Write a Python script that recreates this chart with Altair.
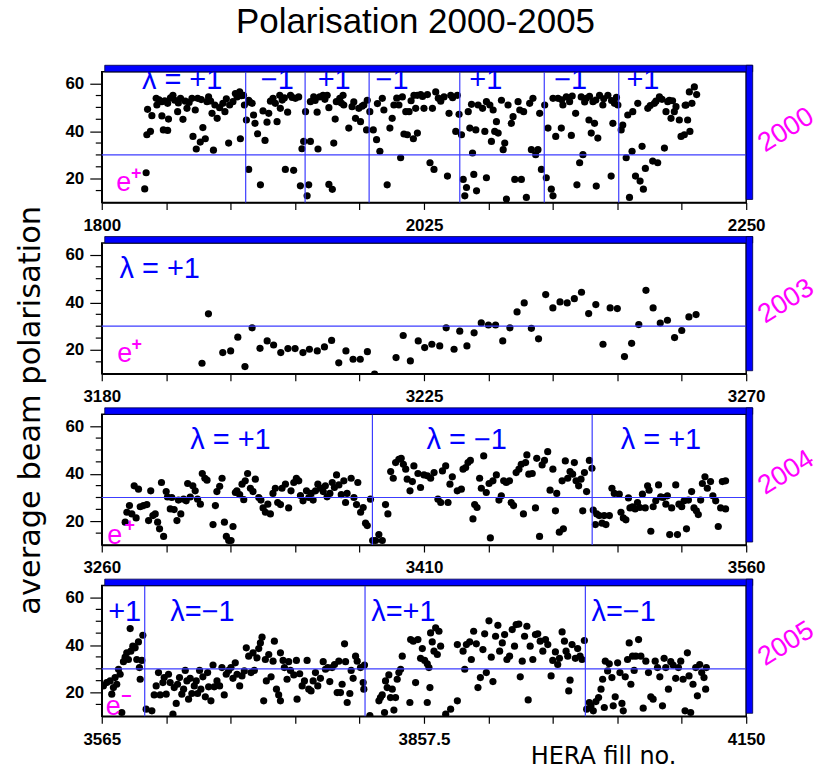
import altair as alt
import pandas as pd

# ---------------- data: average polarisation per HERA fill ----------------
fill_2000 = [
    1831, 1830, 1832, 1831.5, 1834, 1835, 1838, 1838.5, 1842, 1842,
    1843, 1846, 1846.6, 1846, 1849.7, 1851, 1853, 1855, 1856.7, 1858.3,
    1859.5, 1863, 1863.7, 1865.3, 1866, 1867, 1868.8, 1870.6, 1872.3, 1873.5,
    1874.6, 1877, 1878, 1879, 1880.6, 1882.3, 1884.6, 1886, 1888.6, 1889.3,
    1891.6, 1893.3, 1894.5, 1896.8, 1896.3, 1899, 1899.6, 1901, 1902.6, 1902.6,
    1905, 1906, 1907, 1908.8, 1910.8, 1912.6, 1914, 1915.4, 1916.6, 1919.6,
    1921.2, 1922.4, 1924.3, 1924.7, 1927.5, 1928.2, 1929.8, 1931.8, 1934, 1935.2,
    1937.5, 1938.7, 1939.8, 1941, 1942.3, 1943.4, 1944.5, 1945.7, 1945.7, 1948,
    1950.4, 1951, 1952.2, 1954.5, 1957.4, 1958.6, 1958.6, 1961, 1962, 1963,
    1963.8, 1966.2, 1968.5, 1969, 1972.5, 1974.8, 1977.2, 1979.5, 1980.7, 1983,
    1984.9, 1985.4, 1987.2, 1989.6, 1991.9, 1994.2, 1995.9, 1997, 1999.3, 2001.2,
    2002.8, 2004, 2007.5, 2009.9, 2008.7, 2012.3, 2014.6, 2011, 2013.4, 2017.6,
    2020.4, 2018, 2020.4, 2019.2, 2022.7, 2025, 2027.4, 2029.2, 2032, 2030.9,
    2033.2, 2036.7, 2039, 2041.4, 2042.5, 2043.7, 2047.2, 2049.5, 2048.3, 2051.2,
    2052.4, 2053.5, 2054.7, 2055.9, 2057, 2058.2, 2058.9, 2059.8, 2061.2, 2061.7,
    2062.8, 2065.9, 2067.5, 2068.6, 2068.6, 2071, 2072.1, 2073.3, 2074.4, 2075.6,
    2076.8, 2079.1, 2080.3, 2081.4, 2082.6, 2083.7, 2086, 2087.2, 2088.4, 2090.7,
    2091.9, 2093, 2094.6, 2096.5, 2098.8, 2100, 2101.1, 2103, 2104.6, 2105.8,
    2107, 2109.3, 2110.4, 2111.6, 2113.9, 2115.1, 2115.1, 2117, 2118.6, 2120.9,
    2122, 2124.4, 2126.7, 2127.9, 2130.9, 2131.8, 2133.7, 2134.8, 2136, 2138.3,
    2140.2, 2141.8, 2143, 2144.1, 2145.3, 2146.4, 2147.6, 2149.9, 2153.4, 2155.7,
    2156.9, 2158, 2160.4, 2162.7, 2163.8, 2166.2, 2167.3, 2168.5, 2170.3, 2170.8,
    2172.7, 2174.3, 2175.9, 2177.3, 2178.2, 2179.6, 2181.3, 2184.7, 2185.9, 2188.2,
    2189.4, 2192.9, 2194, 2195.2, 2196.3, 2197.5, 2199.8, 2201, 2203.3, 2204.5,
    2206.8, 2208, 2209.1, 2210.7, 2212.1, 2210.3, 2213.8, 2215.4,
    1840, 1844, 1848, 1853.5, 1861, 1869.5, 1876, 1887, 1897.5, 1903.5,
    1917.8, 1926, 1933, 1949, 1955.8, 1967.3, 1976, 1981.8, 1992.5, 2006,
    2016, 2024, 2035, 2045, 2121.2, 2128.5, 2137.2, 2140.6, 2145, 2150.5,
    2156, 2159.4, 2183, 2187, 2191.2, 2198.6, 2207.4,
]
pol_2000 = [
    22.5, 15.7, 49.2, 38.5, 39.9, 46.5, 53.8, 51, 46.4, 52.4,
    40.5, 40.3, 45.1, 51.7, 55.1, 53, 48.2, 53.8, 45, 52.6,
    49.6, 53.8, 37.8, 48.9, 32.5, 53.8, 35.4, 41.5, 36.8, 52.4,
    54.4, 47.5, 32, 51, 45.4, 49.9, 51.7, 48.2, 35, 51,
    52.4, 55.8, 54.4, 36.8, 56.5, 55.1, 51, 44.7, 23.9, 53,
    51.7, 46.8, 43.3, 38.9, 17.4, 48.5, 36.1, 43.8, 47.5, 53.8,
    51.7, 44, 55.1, 49.6, 54, 23.9, 48, 55.1, 23.5, 53.8,
    54.4, 17, 32.6, 35.7, 48.2, 12.8, 17.4, 35.7, 52.4, 54.4,
    48, 32.5, 54.4, 55.1, 55.1, 49.9, 17.6, 15.5, 35, 45.1,
    52.4, 53.8, 55.1, 51, 41.3, 50.3, 45.4, 49.6, 44, 51,
    40.5, 53, 48.2, 40.5, 36.4, 31.5, 53.8, 48.9, 17.4, 41.3,
    45.4, 51, 51, 54.4, 28.8, 48.2, 48.2, 38.8, 38.5, 36.8,
    39.2, 55.1, 55.1, 49.6, 55.4, 49.6, 55.4, 26.7, 23.9, 49.6,
    56.5, 52.6, 54.4, 21.1, 47.5, 55.1, 39.9, 47.1, 55.1, 38.5,
    19.7, 12.8, 16.3, 48.2, 41.3, 51.3, 30.8, 21.8, 40.5, 14.9,
    51, 49.6, 39.9, 20.4, 52.4, 51, 35.7, 48.9, 39.9, 44,
    39.2, 53, 32.2, 35, 11.4, 51, 43.3, 46.1, 19.7, 52.4,
    48.9, 19.7, 48.2, 12.1, 51.7, 32.2, 53.8, 30.1, 32.2, 47.5,
    23.9, 51, 20.4, 41.3, 15.6, 12.8, 53.8, 37.8, 53.8, 41.3,
    51, 54.4, 52.4, 38.2, 47.5, 17.4, 26.7, 54.4, 30.1, 53.8,
    44.7, 39.2, 52.4, 43.3, 16.9, 37.1, 55.1, 51, 55.1, 21.1,
    43.3, 51.7, 51, 40.5, 42.6, 28.8, 46.8, 12.1, 31.5, 48.2,
    21.1, 51.7, 19, 33.6, 15.6, 24.3, 49.6, 27.4, 51.7, 26.7,
    54.4, 32.9, 48.2, 52.4, 53, 45.4, 48.2, 50.3, 44.7, 37.8,
    38.5, 51, 44.7, 39.9, 51.7, 56.5, 58.6, 55.4,
    53.2, 52.8, 54, 51.9, 52.1, 53.3, 52.7, 53.6, 54.9, 52.2,
    52.6, 53.1, 54.2, 52.9, 53.4, 51.8, 52.3, 50.5, 51.6, 53.9,
    52.8, 54.6, 53.9, 54.1, 53.2, 54.8, 52.3, 54.7, 53.1, 53.6,
    52.9, 54.2, 50.8, 52.6, 53.4, 52.8, 50.9,
]

fill_2003 = [
    3194, 3194.9, 3196.9, 3198, 3199, 3200, 3201, 3202.1, 3203.1, 3204,
    3205, 3206, 3207, 3208.1, 3209, 3210.1, 3211.1, 3212.1, 3213.1, 3214.1,
    3215.1, 3216.1, 3217.1, 3218.1, 3221.1, 3222.1, 3223.1, 3224.2, 3225.1, 3226.1,
    3227.2, 3228.1, 3229.2, 3230, 3231, 3232, 3233, 3234, 3235, 3236,
    3237, 3238, 3239, 3240, 3241, 3242, 3243, 3244, 3245, 3246,
    3247, 3248, 3249, 3250, 3251, 3252, 3253, 3254, 3255, 3256,
    3257, 3258, 3259, 3260, 3261, 3262, 3263,
]
pol_2003 = [
    14.4, 35.2, 18.9, 19.6, 25.4, 13, 29.3, 20.7, 23.8, 22.1,
    18.9, 20.6, 20.6, 18.9, 20.3, 19.6, 21.3, 24, 14.6, 19.6,
    16.1, 16.1, 19.3, 9.8, 16.8, 26.1, 15.4, 23.8, 21, 22.4,
    21.7, 29.3, 20.3, 27.9, 21.7, 27.2, 31.4, 30.5, 30.5, 23.8,
    29.3, 36, 39.8, 29.1, 24.7, 43.3, 37.7, 40.2, 39.8, 41.6,
    44.3, 35.3, 39.1, 22.4, 37.7, 37.4, 17.2, 22.8, 30.7, 45.1,
    37.7, 31.3, 32.5, 25.2, 28.2, 33.9, 34.9,
]

fill_2004 = [
    3270.9, 3271.7, 3272.9, 3274, 3275.1, 3276, 3277.1, 3277.9, 3279.4, 3281,
    3281.8, 3282.8, 3283.8, 3284.9, 3286, 3286.9, 3287.8, 3288.8, 3290, 3290.6,
    3291.9, 3292.6, 3293.7, 3295, 3295.7, 3296.8, 3298.1, 3299.3, 3300, 3301.2,
    3302.4, 3303.5, 3304.6, 3305.9, 3306.8, 3308, 3309, 3311.8, 3312.9, 3313.6,
    3314.9, 3316, 3317.1, 3318, 3319.1, 3320.2, 3321.1, 3322.2, 3322.9, 3324.2,
    3325.3, 3326.1, 3326.8, 3327.9, 3329.2, 3330.4, 3331.5, 3333.1, 3334.1, 3335.1,
    3336.2, 3337.3, 3338.5, 3339.7, 3340.8, 3341.9, 3343.2, 3343.9, 3345.5, 3347,
    3348.1, 3349.4, 3350.6, 3351.7, 3352.5, 3353.7, 3355.3, 3356.4, 3357.5, 3358.4,
    3359.5, 3360.6, 3361.8, 3363.1, 3364.1, 3364.9, 3366.2, 3367.3, 3368.3, 3369.3,
    3370.4, 3371.5, 3372.7, 3373.5, 3374.2, 3376.1, 3377.4, 3378.6, 3379.2, 3380.5,
    3381.7, 3382.8, 3383.6, 3385.1, 3386.1, 3387.5, 3389, 3390.6, 3392.1, 3393.2,
    3394.5, 3395.7, 3396.8, 3398.3, 3399.4, 3400.4, 3401.5, 3402.2, 3403.5, 3404.6,
    3405.3, 3407.2, 3408.4, 3410, 3411.6, 3413.1, 3414.7, 3416.5, 3417.8, 3418.6,
    3420.1, 3421.2, 3422.1, 3423.2, 3425.5, 3427.4, 3428.2, 3429.4, 3430.5, 3431.6,
    3432.8, 3433.6, 3434.7, 3435.9, 3436.7, 3437.8, 3439, 3440.3, 3440.9, 3442.1,
    3443.7, 3444.9, 3446, 3447.1, 3448.3, 3449.8, 3450.6, 3451.7, 3452.9, 3454.2,
    3455.3, 3456.3, 3457.3, 3457.9, 3458.8, 3460.4, 3461.9, 3462.5, 3463.8, 3465,
    3466.1, 3467.6, 3468.7, 3470, 3471.2, 3471.8, 3473, 3474.3, 3474.9, 3475.8,
    3476.9, 3478, 3479.2, 3480, 3480.8, 3482, 3483.1, 3483.9, 3484.7, 3485.7,
    3487, 3488.2, 3488.8, 3489.8, 3490.4, 3491.6, 3492.9, 3493.9, 3494.7, 3496.3,
    3497.5, 3498.6, 3500.9, 3501.7, 3502.8, 3504, 3505.2, 3505.9, 3507.1, 3508.3,
    3509.4, 3510.5, 3511.7, 3513, 3514.1, 3514.8, 3515.6, 3516.7, 3517.9, 3519.2,
    3520.2, 3521.3, 3522.6, 3523.3, 3524.4, 3525.3, 3527.2, 3528, 3528.7, 3530,
    3531.1, 3532.2, 3533.1, 3534.6, 3535.7, 3536.8, 3537.7, 3538.8, 3539.6, 3540.8,
    3541.9, 3543.4, 3544.5, 3545.8, 3547, 3548.1, 3548.9, 3550.4, 3550.4,
]
pol_2004 = [
    19.6, 23.8, 26.6, 23.1, 34.9, 21.4, 33.5, 26.1, 26.6, 27,
    20.3, 32.8, 22.4, 23.1, 19.6, 16.8, 36.3, 13.6, 32.5, 30.2,
    25.2, 30, 24.9, 20.3, 28.9, 23.1, 29.3, 28.6, 35.9, 30.2,
    34.9, 32.8, 29.3, 27.2, 40.1, 38.1, 37.3, 18.6, 26.6, 32.5,
    34.7, 38.1, 19.6, 13.6, 11.9, 11.9, 17.8, 32.1, 32.8, 31.2,
    35.6, 29.1, 37, 40.1, 33.9, 32.5, 37.7, 30, 28.9, 25.6,
    23.8, 27.2, 23.1, 31.7, 33.9, 27.9, 27, 33.9, 35.6, 25.6,
    32.8, 36.3, 38.1, 37, 30.8, 28.6, 32.8, 30, 31.7, 28.9,
    32.8, 35.6, 33.9, 32.5, 34.9, 30.3, 31.7, 36.3, 34.2, 39.5,
    35.3, 31.2, 37, 27.9, 31.7, 38.1, 30, 27, 36.3, 23.8,
    25.8, 19.2, 18.2, 29.3, 11.9, 11.9, 14.4, 11.9, 27, 23.1,
    40.9, 38.1, 44.7, 46.1, 46.5, 44, 41.9, 37.7, 32.8, 36.7,
    43.3, 40.1, 34.2, 39.5, 39.1, 38.1, 40.5, 29.3, 27.9, 41.2,
    43.3, 27.9, 35.6, 38.7, 32.8, 33.5, 41.9, 42.6, 44.7, 45.6,
    21, 27, 25.8, 38.1, 33.9, 47.5, 32.1, 35.9, 13, 37,
    39.5, 28.9, 30.7, 37, 36.3, 37, 27.9, 26.6, 40.5, 41.9,
    44, 23.1, 44.7, 47.9, 39.8, 40.1, 25.6, 46.5, 13.6, 43.7,
    45.6, 49.3, 33.1, 41.9, 24.4, 31.7, 15.4, 37, 16.8, 45.4,
    38.1, 40.9, 39.8, 44.7, 37, 34.9, 37.7, 24.4, 40.5, 32.5,
    45.6, 42.3, 24.7, 18.6, 23.1, 22.4, 19.2, 22.4, 18.6, 22.4,
    33.9, 31.7, 31.4, 23.8, 21.4, 20.6, 29.8, 25.6, 26.1, 25.2,
    27.9, 25.8, 31.4, 25.6, 34.9, 33.1, 15.8, 26.1, 28.6, 35.3,
    30.3, 30, 27.2, 30.7, 14.4, 25.6, 35.3, 14.4, 27.2, 26.1,
    28.6, 16.8, 28.9, 32.5, 25.6, 24.4, 22.8, 28.9, 35.9, 38.7,
    33.9, 36.7, 30.7, 28.6, 17.8, 25.6, 36.7, 37, 25.2,
]

fill_2005 = [
    3566.5, 3569.5, 3572.6, 3574.1, 3575.6, 3577.1, 3578.6, 3580.2, 3581.7, 3583.2,
    3584.7, 3586.2, 3587.7, 3589.2, 3590.8, 3591.4, 3593.2, 3595.3, 3596.8, 3598.3,
    3599.2, 3599.9, 3601.4, 3602.3, 3605.3, 3610.5, 3612.6, 3614.4, 3616.5, 3618,
    3620.5, 3621.7, 3623.5, 3625.6, 3627.1, 3629.6, 3630.8, 3632.6, 3633.8, 3635.6,
    3637.7, 3639.3, 3640.8, 3642.3, 3643.8, 3645.3, 3646.8, 3649, 3650.8, 3652,
    3653.8, 3655, 3656.8, 3659, 3661.1, 3662, 3664.1, 3666, 3667.1, 3669.6,
    3672, 3674.1, 3676.2, 3678, 3680.2, 3682.3, 3684.1, 3686.2, 3687.8, 3690.2,
    3692.3, 3694.4, 3696.2, 3698.4, 3700.5, 3702.3, 3703.5, 3705.9, 3707.5, 3709,
    3710.5, 3712, 3713.5, 3714.4, 3716.6, 3718.7, 3720.5, 3721.7, 3723.6, 3725.6,
    3727.2, 3727.2, 3729.6, 3730.8, 3733.2, 3734.7, 3736.3, 3739.3, 3741.7, 3742.3,
    3744.7, 3746.9, 3749, 3751.4, 3752.9, 3755, 3756.9, 3759, 3761.1, 3763.5,
    3766, 3768.1, 3770.2, 3772, 3774.1, 3776.3, 3778.7, 3780.2, 3781.7, 3783.2,
    3785.4, 3786.3, 3787.8, 3790.2, 3791.4, 3793.2, 3795.4, 3796.9, 3799.9, 3802.3,
    3802.9, 3803.5, 3808.4, 3816.6, 3818, 3819.6, 3821.7, 3822.6, 3824.1, 3825.6,
    3827.1, 3828.7, 3830.2, 3831.7, 3833.2, 3834.7, 3836.3, 3837.8, 3844.7, 3845.4,
    3847.8, 3849.9, 3852, 3854.4, 3856, 3858.1, 3860.5, 3862, 3862.9, 3860.5,
    3863.5, 3865, 3866.6, 3868.1, 3869.6, 3871.1, 3872.6, 3877.2, 3881.7, 3887.8,
    3887.8, 3893, 3894.5, 3896, 3899, 3900.5, 3902.6, 3905, 3906.5, 3908.7,
    3911, 3912.6, 3914.1, 3916.5, 3918.6, 3920.1, 3922.5, 3924.6, 3926.2, 3928.6,
    3930.7, 3932.8, 3935.2, 3937.6, 3939.7, 3941.2, 3943.6, 3944.9, 3946.7, 3948.8,
    3950.9, 3952.1, 3953.9, 3956.3, 3958.7, 3960.8, 3963, 3965.4, 3967.8, 3969.9,
    3972.9, 3974.4, 3976.8, 3978.9, 3980.5, 3982.9, 3985, 3986.5, 3988, 3988.9,
    3990.1, 3991.9, 3994.9, 3997, 3999.2, 4001, 4003.1, 4005.2, 4007.6, 4009.1,
    4011.2, 4013.6, 4016, 4018.2, 4019.7, 4021.2, 4022.1, 4024.2, 4025.7, 4028.1,
    4029.3, 4031.1, 4033.3, 4035.4, 4037.2, 4038.4, 4040.2, 4042.3, 4043.8, 4045.3,
    4046.8, 4048.3, 4049.8, 4052.3, 4054.4, 4056.5, 4058.9, 4061.3, 4063.4, 4065.5,
    4067.4, 4069.5, 4071.6, 4074, 4075.5, 4077, 4079.4, 4081.5, 4083.6, 4086,
    4088.5, 4090.6, 4092.7, 4094.5, 4096.6, 4098.1, 4099.6, 4101.7, 4104.2, 4105.7,
    4107.8, 4109.6, 4111.7, 4113.2, 4113.8,
]
pol_2005 = [
    22.8, 24.2, 24.9, 19.3, 22.1, 26.3, 23.5, 29.8, 27.7, 11.6,
    33, 34.9, 36.7, 33.9, 46.9, 37.4, 39.5, 38.8, 33.9, 41.3,
    30.5, 25.6, 33.5, 44.1, 13, 12.3, 19, 22.8, 28.4, 19,
    24.2, 26.3, 19.3, 27.7, 24.2, 10.9, 22.1, 15.4, 23.5, 26.3,
    19.3, 21.4, 29.3, 24.9, 17.2, 26, 19.6, 22.8, 24.9, 19.6,
    29.3, 21.4, 26.6, 18.2, 28.4, 22.4, 16.5, 31.6, 22.4, 24.9,
    22.8, 30.5, 19, 27.7, 29.3, 30.5, 26, 32.5, 27.7, 22.8,
    27, 29.1, 38.8, 35.3, 28.4, 36.7, 29.3, 34.6, 38.5, 40.9,
    43.3, 16.5, 33.9, 24.9, 36, 26.6, 33.2, 41.6, 21.4, 19,
    16.5, 36.7, 33.5, 30.5, 25.6, 33, 29.3, 27.4, 33.5, 17.2,
    27.9, 22.8, 24.9, 33.5, 21.4, 20.7, 24.9, 28.4, 22.8, 26,
    33, 29.8, 30.5, 24.6, 30.5, 31.8, 20, 33.2, 20, 23.5,
    40.5, 33, 15.8, 19.6, 29.3, 26, 35.3, 33.2, 30.5, 24.2,
    21.4, 31.6, 10.3, 16.5, 17.9, 19, 11.6, 24.9, 22.1, 27.4,
    17.9, 21.4, 12.6, 17.9, 25.6, 28.4, 29.8, 35.3, 15.8, 42.3,
    41.6, 24.2, 42.3, 34.4, 38.5, 33.5, 32.1, 30.5, 22.1, 15.8,
    45.1, 41.3, 37.4, 47.2, 36, 45.8, 39.5, 10.9, 13, 16.5,
    40.2, 37.4, 29.8, 40.2, 41.3, 33.9, 45.8, 40.5, 22.1, 26.3,
    38.1, 44.7, 28.4, 50.2, 34.9, 24.6, 43.7, 48.3, 37.4, 40.9,
    44.4, 33.9, 35.3, 46.5, 39.5, 48.6, 48.8, 26.6, 33.2, 43.7,
    47.9, 16.9, 39.5, 33.9, 44.4, 44.7, 41.6, 37.4, 42.3, 40.2,
    27, 33.5, 37.1, 31.8, 34.4, 45.5, 41.6, 37.4, 35.3, 20.7,
    25.2, 40.2, 34.4, 38.5, 35.3, 33.9, 41.9, 13, 15.8, 14.4,
    12.3, 16.2, 17.9, 21.4, 25.6, 13.7, 33.2, 29.1, 32.1, 26.3,
    14.4, 18.2, 32.5, 28.4, 15.4, 12.3, 26.6, 33.9, 40.9, 23.5,
    35.3, 29.3, 35.3, 42.3, 35.3, 13.4, 33.2, 28.4, 18.2, 17.2,
    33.2, 30.5, 26.6, 14.4, 34.4, 30.5, 21.4, 33, 31.6, 26,
    30.5, 33.2, 25.6, 12.3, 36.7, 27, 11.6, 23.5, 30.5, 18.6,
    31.8, 28.4, 26.3, 21.4, 30.5,
]

# helicity flips (fill numbers where the sign of lambda changes)
flips_2000 = [1900.5, 1942, 1986.7, 2050, 2109, 2161]
flips_2003 = []
flips_2004 = [3386, 3488.3]
flips_2005 = [3604, 3804, 4004]

# helicity annotations: text, centre fill, baseline polarisation
lam_text_2000 = ["λ = +1", "−1", "+1", "−1", "+1", "−1", "+1"]
lam_fill_2000 = [1856.1, 1922.6, 1962.3, 2002.7, 2068.2, 2127.4, 2177.9]
lam_pol_2000 = [57.9] * 7
lam_text_2003 = ["λ = +1"]
lam_fill_2003 = [3188.1]
lam_pol_2003 = [50.2]
lam_text_2004 = ["λ = +1", "λ = −1", "λ = +1"]
lam_fill_2004 = [3319.9, 3429.9, 3520.3]
lam_pol_2004 = [50.2, 50.2, 50.2]
lam_text_2005 = ["+1", "λ=−1", "λ=+1", "λ=−1"]
lam_fill_2005 = [3585.8, 3656.4, 3838.8, 4038.7]
lam_pol_2005 = [50, 50, 50, 50]

# x axes: range, tick step and the labelled ticks
x_range = {2000: (1800, 2250), 2003: (3180, 3270), 2004: (3260, 3560), 2005: (3565, 4150)}
x_labelled = {2000: [1800, 2025, 2250], 2003: [3180, 3225, 3270],
              2004: [3260, 3410, 3560], 2005: [3565, 3857.5, 4150]}

# y axis: labelled ticks and the short in-between ticks
y_major = [20, 40, 60]
y_minor = [15, 25, 30, 35, 45, 50, 55]

# beam charge tag: e position, superscript sign and its position
beam_e = {2000: (1815.3, 14.75), 2003: (3183.2, 14.8), 2004: (3266, 10.5), 2005: (3575.4, 10.7)}
beam_sign = {2000: ("+", 1824, 22), 2003: ("+", 3184.9, 22.1),
             2004: ("+", 3273, 17.9), 2005: ("−", 3587.2, 18.2)}

W, H = 646, 131
GAP = 40.7
LEFT, TOP, RIGHT = 101, 69.7, 81          # page margins around the panel stack
Y_DOMAIN = [10, 65]
BLUE = "#0000ff"
LINE_BLUE = "#3c3cff"
MAGENTA = "#ff00ff"
FONT = "Liberation Sans"


def panel(year, fills, pols, flips, lam_text, lam_fill, lam_pol, extra=None):
    x0, x1 = x_range[year]
    step = (x1 - x0) / 10
    xscale = alt.Scale(domain=[x0, x1], nice=False, zero=False)
    yscale = alt.Scale(domain=Y_DOMAIN, nice=False, zero=False)
    xlab = x_labelled[year]
    xaxis = alt.Axis(values=[x0 + step * k for k in range(11)],
                     labelExpr=(f"datum.value == {xlab[0]} || datum.value == {xlab[1]}"
                                f" || datum.value == {xlab[2]} ? '' + datum.value : ''"),
                     tickSize=7, labelPadding=8, labelFlush=False,
                     labelOverlap=False)
    yaxis = alt.Axis(values=y_major, tickSize=12, labelPadding=6, format="d")

    # every layer carries the same axis definition so the merged axes stay intact
    def X(field):
        return alt.X(field, type="quantitative", scale=xscale, title=None, axis=xaxis)

    def Y(field):
        return alt.Y(field, type="quantitative", scale=yscale, title=None, axis=yaxis)

    pts = pd.DataFrame({"fill": fills, "pol": pols})
    points = alt.Chart(pts).mark_circle(size=52, color="black", opacity=1, clip=True).encode(
        x=X("fill"), y=Y("pol"))

    minor = alt.Chart(pd.DataFrame({"pol": y_minor})).mark_rule(
        color="black", strokeWidth=1.2).encode(
        y=Y("pol"), x=alt.value(-6), x2=alt.value(0))

    hline = alt.Chart(pd.DataFrame({"pol": [30]})).mark_rule(
        color=LINE_BLUE, strokeWidth=1.2).encode(
        y=Y("pol"), x=alt.value(0), x2=alt.value(W))

    layers = [points, minor, hline]

    if flips:
        vlines = alt.Chart(pd.DataFrame({"fill": flips})).mark_rule(
            color=LINE_BLUE, strokeWidth=1.2).encode(x=X("fill"))
        layers.append(vlines)

    lam = alt.Chart(pd.DataFrame({"fill": lam_fill, "pol": lam_pol, "txt": lam_text})).mark_text(
        font=FONT, fontSize=29, color=BLUE, align="center", baseline="alphabetic").encode(
        x=X("fill"), y=Y("pol"), text="txt:N")
    layers.append(lam)

    ef, ep = beam_e[year]
    sgn, sf, sp = beam_sign[year]
    e_txt = alt.Chart(pd.DataFrame({"fill": [ef], "pol": [ep], "txt": ["e"]})).mark_text(
        font=FONT, fontSize=27, color=MAGENTA, align="center", baseline="alphabetic").encode(
        x=X("fill"), y=Y("pol"), text="txt:N")
    s_txt = alt.Chart(pd.DataFrame({"fill": [sf], "pol": [sp], "txt": [sgn]})).mark_text(
        font=FONT, fontSize=18, fontWeight="bold", color=MAGENTA, align="center",
        baseline="middle").encode(
        x=X("fill"), y=Y("pol"), text="txt:N")
    layers += [e_txt, s_txt]

    # 3-D frame: blue top lid and right side wall
    one = pd.DataFrame({"k": [0]})
    lid = alt.Chart(one).mark_rect(color=BLUE, stroke="#000040", strokeWidth=0.8).encode(
        x=alt.value(3), x2=alt.value(W + 6.5), y=alt.value(-6.5), y2=alt.value(0))
    wall = alt.Chart(one).mark_rect(color=BLUE, stroke="#000040", strokeWidth=0.8).encode(
        x=alt.value(W), x2=alt.value(W + 6.5), y=alt.value(-6.5), y2=alt.value(H - 3))
    layers += [lid, wall]

    yr = alt.Chart(pd.DataFrame({"txt": [str(year)]})).mark_text(
        font=FONT, fontSize=27, color=MAGENTA, angle=328, align="center",
        baseline="middle").encode(
        x=alt.value(W + 40), y=alt.value(58.5), text="txt:N")
    layers.append(yr)

    if extra:
        layers += extra

    return alt.layer(*layers).properties(width=W, height=H)


one_row = pd.DataFrame({"k": [0]})
title = alt.Chart(one_row).mark_text(
    text="Polarisation 2000-2005", font=FONT, fontSize=35, color="black",
    align="center", baseline="alphabetic").encode(x=alt.value(314.5), y=alt.value(-38.7))
# invisible sheet spanning the page, so the panel stack sits at fixed margins
sheet = alt.Chart(one_row).mark_rect(color="white", opacity=0).encode(
    x=alt.value(-LEFT), x2=alt.value(W + RIGHT),
    y=alt.value(-TOP), y2=alt.value(769 - TOP - 1))
ytitle = alt.Chart(one_row).mark_text(
    text="average beam polarisation", font="DejaVu Sans", fontSize=30.5, color="black",
    angle=270, align="center", baseline="alphabetic").encode(x=alt.value(-61.5), y=alt.value(-4))
xtitle = alt.Chart(one_row).mark_text(
    text="HERA fill no.", font="DejaVu Sans", fontSize=24, color="black",
    align="center", baseline="alphabetic").encode(x=alt.value(503), y=alt.value(178.5))

p2000 = panel(2000, fill_2000, pol_2000, flips_2000, lam_text_2000, lam_fill_2000, lam_pol_2000,
              [sheet, title])
p2003 = panel(2003, fill_2003, pol_2003, flips_2003, lam_text_2003, lam_fill_2003, lam_pol_2003)
p2004 = panel(2004, fill_2004, pol_2004, flips_2004, lam_text_2004, lam_fill_2004, lam_pol_2004, [ytitle])
p2005 = panel(2005, fill_2005, pol_2005, flips_2005, lam_text_2005, lam_fill_2005, lam_pol_2005, [xtitle])

chart = alt.vconcat(p2000, p2003, p2004, p2005, spacing=GAP, bounds="flush").properties(
    padding=0, background="white",
).configure_view(
    stroke="black", strokeWidth=1.5
).configure_axis(
    labelFont=FONT, labelFontSize=17, labelFontWeight="bold", labelColor="black",
    tickColor="black", domainColor="black", domainWidth=1.5, tickWidth=1.2, grid=False,
).configure_axisY(
    tickSize=12, labelPadding=6, labelAlign="right",
).configure_axisX(
    tickSize=7, labelPadding=8,
)

chart.save("out.html", embed_options={"renderer": "svg", "actions": False})
